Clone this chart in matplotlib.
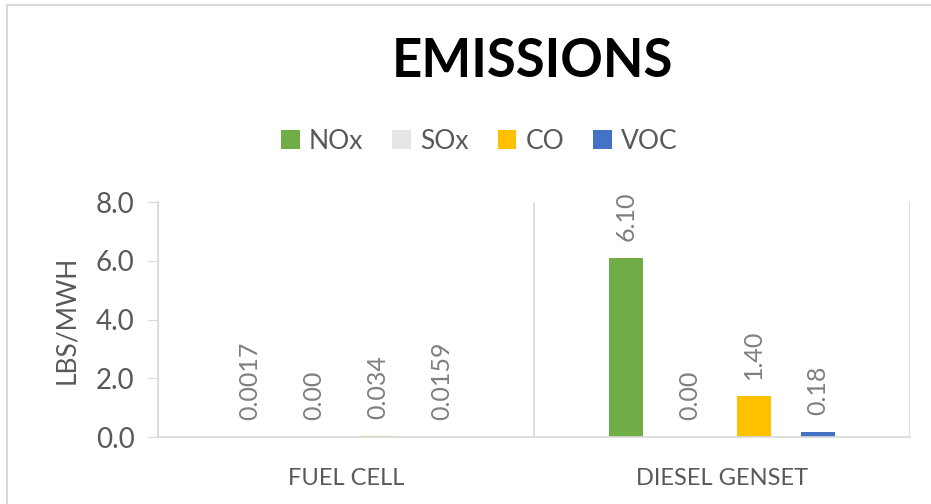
import numpy as np
import matplotlib.pyplot as plt
from matplotlib.lines import Line2D

categories = ["FUEL CELL", "DIESEL GENSET"]
series = ["NOx", "SOx", "CO", "VOC"]
nox = [0.0017, 6.10]
sox = [0.0, 0.0]
co = [0.034, 1.40]
voc = [0.0159, 0.18]
nox_lbl = ["0.0017", "6.10"]
sox_lbl = ["0.00", "0.00"]
co_lbl = ["0.034", "1.40"]
voc_lbl = ["0.0159", "0.18"]
colors = ["#70ad47", "#e7e6e6", "#ffc000", "#4472c4"]

plt.rcParams['font.family'] = ['Lato', 'DejaVu Sans']
grey = "#595959"

fig = plt.figure(figsize=(9.31, 5.04), dpi=100)
ax = fig.add_axes([0.1697, 0.1329, 0.8077, 0.4663])

x = np.arange(len(categories))
width = 0.09
step = 0.17
values = [nox, sox, co, voc]
labels = [nox_lbl, sox_lbl, co_lbl, voc_lbl]
for i, (name, vals, lbls, c) in enumerate(zip(series, values, labels, colors)):
    bars = ax.bar(x + (i - 1.5) * step, vals, width, color=c, label=name)
    ax.bar_label(bars, labels=lbls, rotation=90, padding=12,
                 fontsize=18, color="#7f7f7f")

ax.set_xlim(-0.5, 1.5)
ax.set_ylim(0, 8)
ax.set_yticks([0, 2, 4, 6, 8])
ax.set_yticklabels(["0.0", "2.0", "4.0", "6.0", "8.0"])
ax.set_xticks(x)
ax.set_xticklabels(categories)
ax.tick_params(axis='y', length=7, color="#d9d9d9", labelsize=20,
               labelcolor=grey, pad=10)
ax.tick_params(axis='x', length=0, labelsize=17, labelcolor=grey, pad=22)
for xv in [-0.5, 0.5, 1.5]:
    ax.axvline(xv, color="#d9d9d9", lw=1.2)
for s in ["top", "right"]:
    ax.spines[s].set_visible(False)
for s in ["left", "bottom"]:
    ax.spines[s].set_color("#d9d9d9")
    ax.spines[s].set_linewidth(1.2)
ax.set_ylabel("LBS/MWH", fontsize=19, color=grey, labelpad=12)

fig.text(0.572, 0.877, "EMISSIONS", ha="center", va="center",
         fontsize=38, fontweight="bold", color="black")
fig.legend(loc="center", bbox_to_anchor=(0.515, 0.72), ncol=4, frameon=False,
           fontsize=19, labelcolor=grey, handlelength=0.7, handleheight=0.7,
           handletextpad=0.35, columnspacing=1.1)

fig.add_artist(Line2D([0.0075, 0.0075], [0, 0.99], transform=fig.transFigure,
                      color="#d9d9d9", lw=1.5))
fig.add_artist(Line2D([0.0075, 1], [0.99, 0.99], transform=fig.transFigure,
                      color="#d9d9d9", lw=1.5))

fig.savefig("out.png", dpi=100)
